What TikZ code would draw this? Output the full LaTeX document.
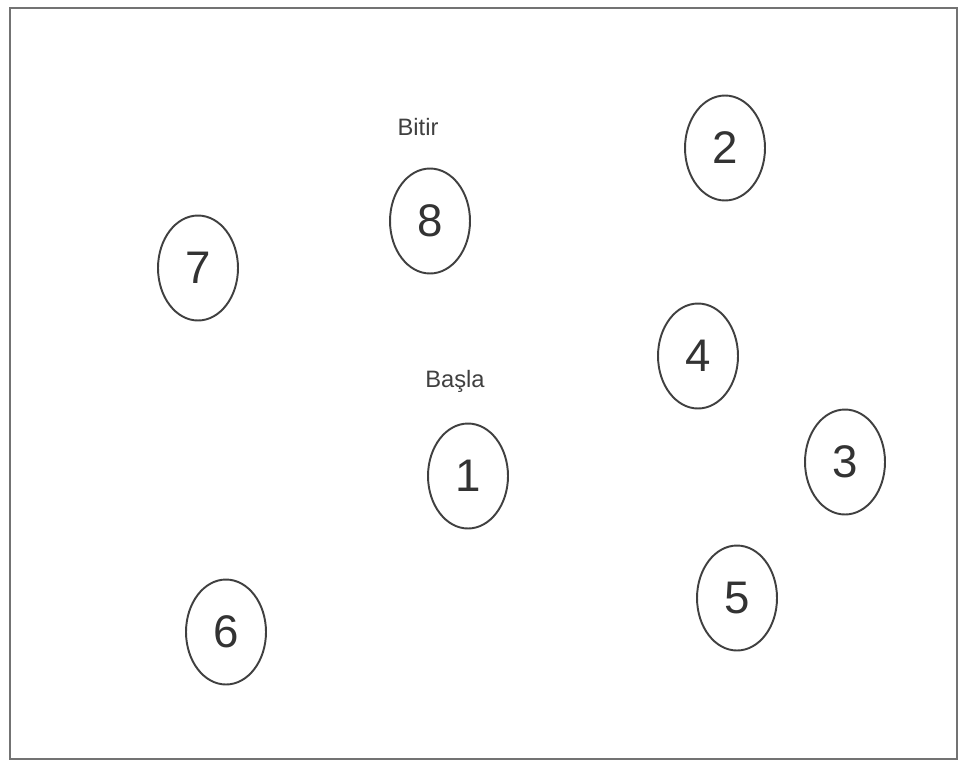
\documentclass[tikz,border=0pt]{standalone}
\usepackage{fontspec}
\setmainfont{Liberation Sans}
\usepackage{tikz}
\usetikzlibrary{positioning, shapes.geometric}

\begin{document}
\begin{tikzpicture}[
    x=0.02cm, y=-0.02cm,
    % Node Styles
    vertex/.style={ellipse, draw=black!75, line width=1.1pt, minimum width=1.6cm, minimum height=2.1cm, inner sep=0pt, font=\fontsize{26}{28}\selectfont, text=black!80},
    tag/.style={font=\fontsize{13.5}{15}\selectfont, text=black!75},
    frame/.style={draw=black!55, line width=1.4pt}
]

    \useasboundingbox (0,0) rectangle (959,761);
    \draw [frame] (10,8) rectangle (957,759);

    % Nodes
    \node [vertex] (v1) at (468,476) {1};
    \node [vertex] (v2) at (725,148) {2};
    \node [vertex] (v3) at (845,462) {3};
    \node [vertex] (v4) at (698,356) {4};
    \node [vertex] (v5) at (737,598) {5};
    \node [vertex] (v6) at (226,632) {6};
    \node [vertex] (v7) at (198,268) {7};
    \node [vertex] (v8) at (430,221) {8};

    % Labels
    \node [tag] (finish) at (418,127) {Bitir};
    \node [tag] (start) at (455,381) {Başla};

\end{tikzpicture}
\end{document}
